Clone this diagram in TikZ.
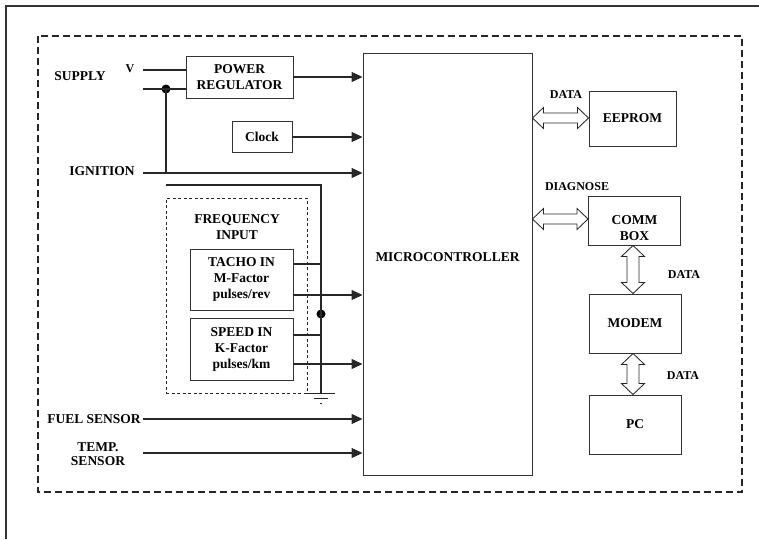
\documentclass[tikz,border=0pt]{standalone}
\usepackage{fontspec}
\setmainfont{Liberation Serif}
\usetikzlibrary{calc,arrows.meta}
\newcommand\bfbig{\fontsize{13.5}{16}\selectfont\bfseries}
\newcommand\bfsml{\fontsize{12}{14}\selectfont\bfseries}
\newcommand\hfat[2]{\draw[fat] (#1) -- ($(#1)+(11,-10.5)$) -- ($(#1)+(11,-5)$) -- ($(#2)+(-11,-5)$) -- ($(#2)+(-11,-10.5)$) -- (#2) -- ($(#2)+(-11,10.5)$) -- ($(#2)+(-11,5)$) -- ($(#1)+(11,5)$) -- ($(#1)+(11,10.5)$) -- cycle;}
\newcommand\vfat[2]{\draw[fat] (#1) -- ($(#1)+(-11.5,11)$) -- ($(#1)+(-6,11)$) -- ($(#2)+(-6,-11)$) -- ($(#2)+(-11.5,-11)$) -- (#2) -- ($(#2)+(11.5,-11)$) -- ($(#2)+(6,-11)$) -- ($(#1)+(6,11)$) -- ($(#1)+(11.5,11)$) -- cycle;}
\begin{document}
\begin{tikzpicture}[x=1pt,y=-1pt,
  wire/.style={line width=1.1pt, draw=black!85},
  arr/.style={wire, -{Triangle[length=11pt,width=10pt]}},
  blk/.style={draw=black!80, line width=0.95pt, fill=white, inner sep=0pt, align=center, font=\bfbig},
  lbl/.style={inner sep=0pt, align=center, font=\bfbig},
  sml/.style={inner sep=0pt, align=center, font=\bfsml},
  fat/.style={draw=black!85, line width=0.85pt, fill=white, line join=miter},
  dot/.style={circle, fill=black, inner sep=0pt, minimum size=9pt},
  gndline/.style={line width=1pt, draw=black!85}
]
\useasboundingbox (0,0) rectangle (759,539);
\fill[white] (0,0) rectangle (759,539);
% outer frame
\draw[line width=1.6pt, black!80] (6,539) -- (6,6) -- (759,6);
% dashed enclosure
\draw[line width=2.2pt, black!85, dash pattern=on 7pt off 4pt] (38,36) rectangle (742,492);

% microcontroller
\node[blk, minimum width=169, minimum height=422,
  label={[lbl, name=mctxt, yshift=7]center:MICROCONTROLLER}] (mc) at (447.5,264) {};

% left blocks
\node[blk, minimum width=107, minimum height=42] (pr) at (239.5,77) {POWER\\REGULATOR};
\node[blk, minimum width=60, minimum height=31] (clk) at (262,137) {Clock};
\node[draw=black!85, line width=0.85pt, dash pattern=on 3pt off 2.5pt, minimum width=141, minimum height=195, inner sep=0pt] (freq) at (236.5,295.5) {};
\node[lbl] (freqt) at (237,227) {FREQUENCY\\INPUT};
\node[blk, minimum width=103, minimum height=61] (tacho) at (241.5,279.5) {TACHO IN\\M-Factor\\pulses/rev};
\node[blk, minimum width=103, minimum height=62] (speed) at (241.5,349) {SPEED IN\\K-Factor\\pulses/km};

% left labels
\node[lbl] (supply) at (80,76) {SUPPLY};
\node[sml] (v) at (130,69) {V};
\node[lbl] (ign) at (102,171) {IGNITION};
\node[lbl] (fuel) at (94,419) {FUEL SENSOR};
\node[lbl, font=\fontsize{13.5}{14}\selectfont\bfseries] (temp) at (98,454) {TEMP.\\SENSOR};

% wire coordinates
\coordinate (vin) at (143,70);
\coordinate (gin) at (143,89);
\coordinate (ignin) at (143,173);
\coordinate (fin) at (143,419);
\coordinate (tin) at (143,453);
\coordinate (gtop) at (166,185);
\coordinate (gcorner) at (321,185);
\coordinate (gnd) at (321,393);
\node[dot] (d1) at (166,89) {};
\node[dot] (d2) at (321,314) {};

% supply wires
\draw[wire] (vin) -- (vin -| pr.west);
\draw[wire] (gin) -- (gin -| pr.west);
\draw[wire] (d1.center) -- (d1.center |- ignin);
\draw[arr] (ignin) -- (ignin -| mc.west);
\draw[arr] (pr.east) -- (pr.east -| mc.west);
\draw[arr] (clk.east) -- (clk.east -| mc.west);

% ground rail
\draw[wire] (gtop) -- (gcorner) -- (gnd);
\draw[gndline] ($(gnd)+(-14,0)$) -- ($(gnd)+(14,0)$);
\draw[gndline] ($(gnd)+(-7,5)$) -- ($(gnd)+(7,5)$);
\draw[gndline] ($(gnd)+(-1,10)$) -- ($(gnd)+(1,10)$);

% tacho/speed wires
\coordinate (t1) at (293,264);
\coordinate (t2) at (293,295);
\coordinate (s1) at (293,335);
\coordinate (s2) at (293,364);
\draw[wire] (t1) -- (t1 -| gnd);
\draw[arr] (t2) -- (t2 -| mc.west);
\draw[wire] (s1) -- (s1 -| gnd);
\draw[arr] (s2) -- (s2 -| mc.west);

% sensors
\draw[arr] (fin) -- (fin -| mc.west);
\draw[arr] (tin) -- (tin -| mc.west);

% right blocks
\node[blk, minimum width=87, minimum height=55] (eeprom) at (632.5,118.5) {EEPROM};
\node[blk, minimum width=92, minimum height=49,
  label={[lbl, name=commtxt, yshift=-8]center:{COMM\\BOX}}] (comm) at (634.5,220.5) {};
\node[blk, minimum width=92, minimum height=59] (modem) at (635,323.5) {MODEM};
\node[blk, minimum width=92, minimum height=59] (pc) at (635,424.5) {PC};

\node[sml] (data1) at (566,95) {DATA};
\node[sml] (diag) at (577,187) {DIAGNOSE};
\node[sml] (data2) at (684,275) {DATA};
\node[sml] (data3) at (683,376) {DATA};

% fat double arrows
\coordinate (e1) at (mc.east |- 0,118);
\coordinate (e2) at (eeprom.west |- 0,118);
\hfat{e1}{e2}
\coordinate (c1) at (mc.east |- 0,219);
\coordinate (c2) at (comm.west |- 0,219);
\hfat{c1}{c2}
\coordinate (m1) at (633,0 |- comm.south);
\coordinate (m2) at (633,0 |- modem.north);
\vfat{m1}{m2}
\coordinate (p1) at (633,0 |- modem.south);
\coordinate (p2) at (633,0 |- pc.north);
\vfat{p1}{p2}
\end{tikzpicture}
\end{document}
